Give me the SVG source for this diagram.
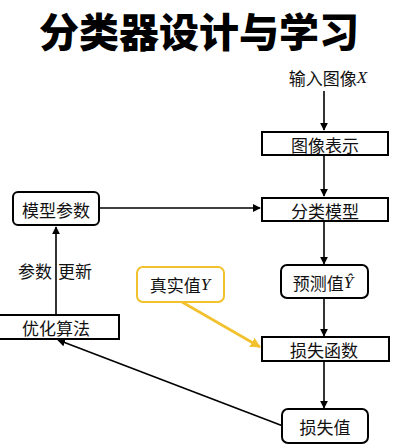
<svg xmlns="http://www.w3.org/2000/svg" width="401" height="448" viewBox="0 0 401 448">
<style>
.t{font-family:"Noto Sans CJK SC","Noto Sans",sans-serif;font-size:17px;fill:#111;text-anchor:middle;dominant-baseline:central}
.m{font-family:"Liberation Serif",serif;font-style:italic}
.b{fill:#fff;stroke:#000;stroke-width:2}
.c{stroke:#000;stroke-width:1.6;fill:none}
</style>
<defs>
<marker id="a" viewBox="0 0 10 10" refX="9" refY="5" markerWidth="5" markerHeight="5" orient="auto" markerUnits="strokeWidth"><path d="M0,0 L10,5 L0,10 z" fill="#000"/></marker>
<marker id="ay" viewBox="0 0 10 10" refX="9" refY="5" markerWidth="4" markerHeight="4" orient="auto" markerUnits="strokeWidth"><path d="M0,0 L10,5 L0,10 z" fill="#F2C12E"/></marker>
</defs>
<rect width="401" height="448" fill="#fff"/>
<text x="199" y="29.5" font-family="'Noto Sans CJK SC',sans-serif" font-weight="900" font-size="40" text-anchor="middle" dominant-baseline="central" fill="#000">分类器设计与学习</text>
<g id="connectors">
<line class="c" x1="324" y1="91" x2="324" y2="130" marker-end="url(#a)"/>
<line class="c" x1="324" y1="156" x2="324" y2="196" marker-end="url(#a)"/>
<line class="c" x1="100" y1="208" x2="260" y2="208" marker-end="url(#a)"/>
<line class="c" x1="324" y1="222" x2="324" y2="264" marker-end="url(#a)"/>
<line class="c" x1="324" y1="299" x2="324" y2="336" marker-end="url(#a)"/>
<line class="c" x1="324" y1="362" x2="324" y2="408" marker-end="url(#a)"/>
<line class="c" x1="56" y1="315" x2="56" y2="227" marker-end="url(#a)"/>
<line class="c" x1="283" y1="426" x2="58" y2="340" marker-end="url(#a)"/>
<line x1="182" y1="302" x2="260" y2="347" stroke="#F2C12E" stroke-width="2.6" marker-end="url(#ay)"/>
<text class="t" x="55" y="270">参数<tspan dx="6">更新</tspan></text>
</g>
<g id="input"><text class="t" x="328" y="77">输入图像<tspan class="m">X</tspan></text></g>
<g id="repr"><rect class="b" x="262" y="132" width="126" height="23"/><text class="t" x="325" y="144">图像表示</text></g>
<g id="model"><rect class="b" x="262" y="198" width="126" height="23"/><text class="t" x="325" y="210">分类模型</text></g>
<g id="params"><rect class="b" x="13" y="192" width="86" height="33" rx="5"/><text class="t" x="56" y="209">模型参数</text></g>
<g id="opt"><rect class="b" x="-2" y="315" width="121" height="24"/><text class="t" x="56" y="327">优化算法</text></g>
<g id="truth"><rect x="137" y="267" width="87" height="35" rx="6" fill="#fff" stroke="#F2C12E" stroke-width="2"/><text class="t" x="180" y="284">真实值<tspan class="m">Y</tspan></text></g>
<g id="pred"><rect class="b" x="281" y="265" width="87" height="33" rx="6"/><text class="t" x="323" y="282">预测值<tspan class="m">Ŷ</tspan></text></g>
<g id="loss"><rect class="b" x="262" y="337" width="127" height="24"/><text class="t" x="324" y="349">损失函数</text></g>
<g id="lossval"><rect class="b" x="282" y="409" width="86" height="34" rx="6"/><text class="t" x="325" y="426">损失值</text></g>
</svg>
